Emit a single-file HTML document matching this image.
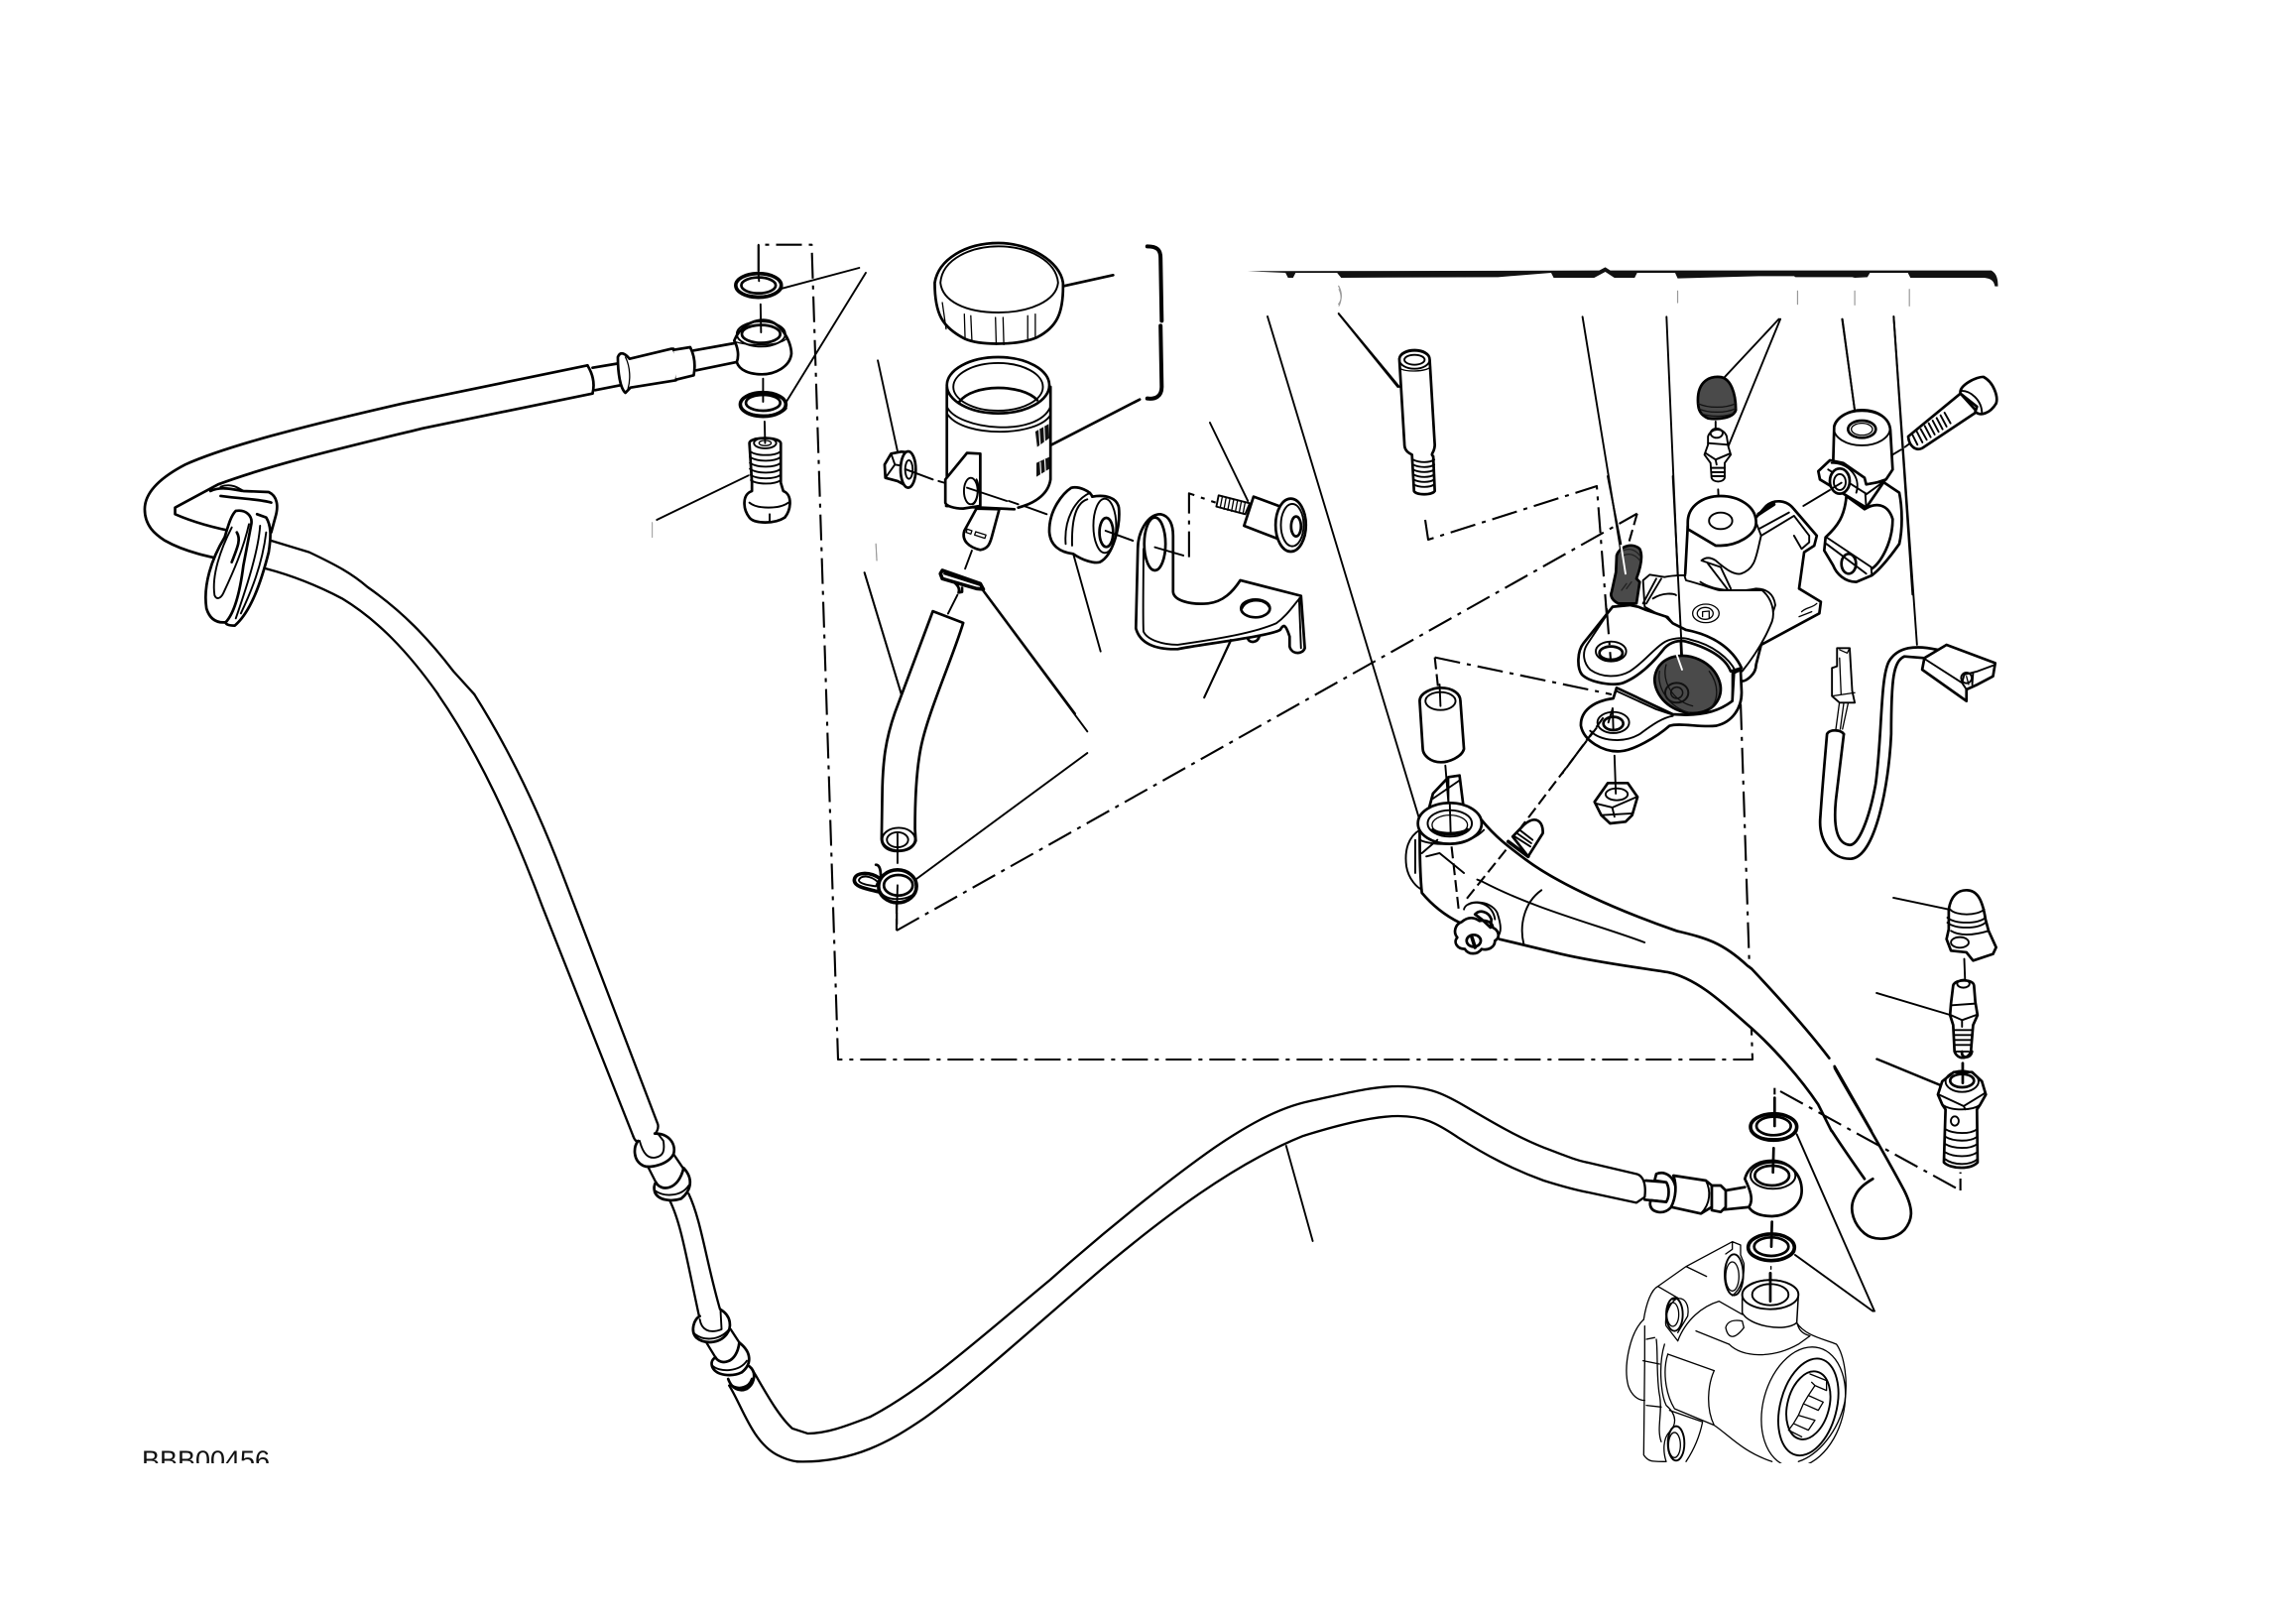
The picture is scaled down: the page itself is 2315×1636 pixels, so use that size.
<!DOCTYPE html>
<html><head><meta charset="utf-8"><style>
html,body{margin:0;padding:0;background:#fff;width:2315px;height:1636px;overflow:hidden}
svg{display:block}
svg *{vector-effect:non-scaling-stroke}
path,ellipse,line,polygon{fill:none;stroke:#000;stroke-width:2.7;stroke-linejoin:round;stroke-linecap:round}
.m{stroke-width:1.9}.f{stroke-width:1.3}.T{stroke-width:3.6}.h{stroke-width:2.3}
.w{fill:#fff}.d{fill:#4a4a4a}.k{fill:#111;stroke:none}
.dd{stroke-width:2.1;stroke-dasharray:26 7 4 7;stroke-linecap:butt}
.ds{stroke-width:2.1;stroke-dasharray:12 5;stroke-linecap:butt}
.wl{stroke:#fff;stroke-width:1.9}.g{stroke:#999;stroke-width:1}
</style></head><body>
<svg width="2315" height="1636" viewBox="0 0 2315 1636" xmlns="http://www.w3.org/2000/svg">
<rect width="2315" height="1636" fill="#fff"/>

<!-- Z1 upper hose -->
<g transform="translate(100 220) scale(.5102 .3333)">
<path d="M965,445 L600,560 C400,630 250,690 170,745 C120,785 90,830 90,880 C90,930 110,955 130,975 C170,1010 220,1025 270,1040"/>
<path d="M975,530 L640,635 C480,695 340,745 235,805 L150,875 L150,895 C180,915 220,935 275,950"/>
<path class="h" d="M340,975 L415,1010 C470,1050 500,1075 530,1115 C600,1190 650,1270 700,1370 L741.5,1440"/>
<path class="h" d="M330,1060 C380,1080 430,1110 480,1150 C550,1215 610,1310 670,1440"/>
<path d="M965,445 C975,470 980,500 975,530"/>
<path d="M975,452 L1030,438 M980,520 L1030,505"/>
<path class="w" d="M1025,420 C1030,400 1040,410 1048,425 L1130,395 L1135,395 C1145,430 1145,460 1140,490 L1050,512 L1040,528 C1030,515 1025,470 1025,420 Z"/>
<path class="f" d="M1040,420 C1050,450 1050,490 1045,515"/>
<path class="w" d="M1135,398 L1168,390 C1178,420 1178,450 1175,475 L1140,488"/>
<path d="M1175,400 L1255,378 M1180,460 L1260,435"/>
<path class="w" d="M1255,370 C1265,330 1290,308 1312,308 C1345,308 1368,370 1368,410 C1365,450 1335,472 1310,472 C1285,472 1265,460 1260,435 C1265,415 1262,390 1255,370 Z"/>
<ellipse class="m" cx="1308" cy="350" rx="48" ry="38"/>
<ellipse cx="1308" cy="350" rx="38" ry="27"/>
<path class="f" d="M1255,372 C1270,385 1340,390 1358,365"/>
<ellipse class="T" cx="1303" cy="203" rx="45" ry="36"/><ellipse cx="1303" cy="203" rx="34" ry="24"/>
<path class="m" d="M1260,215 C1270,240 1335,245 1348,215"/>
<ellipse class="T" cx="1312" cy="563" rx="45" ry="36"/><ellipse cx="1312" cy="558" rx="34" ry="24"/>
<path class="m" d="M1268,575 C1280,600 1345,605 1358,575"/>
<path class="w" d="M1285,680 C1285,660 1345,660 1347,680 L1347,800 L1352,825 C1370,835 1368,880 1355,905 C1335,925 1295,925 1285,905 C1272,880 1270,835 1290,825 L1290,800 Z"/>
<ellipse class="m" cx="1316" cy="680" rx="22" ry="16"/><ellipse class="f" cx="1316" cy="680" rx="12" ry="8"/>
<path class="m" d="M1286,705 C1300,720 1335,720 1347,705 M1286,722 C1300,737 1335,737 1347,722 M1286,740 C1300,755 1335,755 1347,740 M1286,758 C1300,773 1335,773 1347,758 M1287,776 C1300,790 1335,790 1347,776 M1288,792 C1300,806 1335,806 1347,792"/>
<path class="m" d="M1285,860 C1300,880 1345,880 1362,860 M1325,895 L1325,918"/>
<path class="m" d="M1303,80 L1303,165 M1303,170 L1304,190 M1307,260 L1308,345 M1312,485 L1312,555 M1315,615 L1316,680"/>
<path class="m" d="M1350,212 L1502,150 M1356,560 L1515,165 M1283,778 L1102,912"/>
<path class="g" d="M1093,920 L1093,965 M1535,985 L1537,1035"/>
<!-- grommet -->
<path d="M220,825 C240,810 265,820 285,825 L335,828 C352,840 355,870 348,905 L340,950"/>
<path d="M240,840 C290,850 320,850 340,860"/>
<path class="m" d="M240,812 C260,800 275,815 285,825"/>
<path class="w" d="M270,885 C290,880 305,900 300,930 L285,1050 C280,1110 270,1190 250,1222 C230,1225 218,1210 212,1180 C205,1110 222,1030 248,965 C255,930 260,900 270,885 Z"/>
<path class="m" d="M262,935 C240,1000 222,1080 228,1140 C232,1155 240,1150 245,1135 C265,1070 285,1000 296,925"/>
<path d="M312,895 L330,905 C340,930 340,960 335,1010 C320,1100 300,1190 268,1232 C255,1232 250,1228 250,1222"/>
<path class="m" d="M318,930 C315,1000 295,1100 270,1210 M330,950 C322,1050 300,1130 280,1195"/>
<path d="M272,950 C280,970 275,990 262,1040"/>
</g>

<!-- Z9 -->
<g transform="translate(400 700) scale(.3333)">
<path class="h" d="M125,0 C250,180 350,400 440,640 L715,1335"/>
<path class="h" d="M235,0 C330,150 420,330 500,540 L790,1300 C795,1320 770,1350 745,1355 C730,1358 720,1350 715,1335"/>
</g>

<!-- Z6 hose lower left -->
<g transform="translate(100 1100) scale(.5102 .3333)">
<path class="w" d="M1098,128 C1130,128 1140,165 1135,190 C1125,220 1090,235 1075,225 C1055,210 1055,170 1065,150"/>
<path class="m" d="M1068,150 C1075,190 1085,205 1100,200 C1115,195 1118,180 1115,150 L1105,130"/>
<path class="h" d="M1085,230 L1100,275 M1135,190 L1155,235"/>
<path class="w" d="M1155,232 C1175,265 1170,300 1150,325 C1130,335 1105,330 1098,305 C1095,290 1098,280 1100,275 C1110,305 1145,300 1155,232 Z"/>
<path class="m" d="M1098,300 C1115,320 1150,320 1165,285"/>
<path class="h" d="M1128,332 C1150,400 1160,500 1187,690 M1165,310 C1190,390 1200,520 1228,665"/>
<path class="w" d="M1228,660 C1250,680 1250,715 1240,735 C1225,765 1195,765 1180,745 C1168,725 1175,690 1187,680"/>
<path class="m" d="M1187,690 C1190,720 1205,735 1230,720 L1228,665 M1178,735 C1195,755 1225,755 1245,720"/>
<path class="h" d="M1200,760 L1220,810 M1248,720 L1265,760"/>
<path class="w" d="M1265,760 C1290,790 1290,825 1270,850 C1250,865 1220,860 1212,835 C1208,820 1212,810 1218,805 C1228,830 1260,825 1265,760 Z"/>
<path class="m" d="M1212,830 C1225,850 1265,850 1280,815"/>
<path d="M1285,832 C1300,850 1295,885 1280,900 C1265,910 1250,900 1243,870 M1250,890 C1265,905 1285,895 1290,870"/>
<path class="h" d="M1245,890 C1270,950 1290,1060 1340,1100 C1355,1112 1367,1118 1380,1120"/>
<path class="h" d="M1290,840 C1310,890 1340,980 1370,1020 L1400,1035 C1440,1035 1480,1010 1523,985"/>
</g>

<!-- Z8 hose -->
<g transform="translate(740 1060) scale(.6378 .3333)">
<path class="h" d="M215,1105 C300,1020 380,880 500,690 C600,520 700,370 760,290 C810,225 860,170 910,150 C970,125 1010,105 1050,105 C1100,105 1125,130 1160,170 C1200,215 1240,260 1280,290 C1310,312 1330,328 1348,335"/>
<path class="h" d="M100,1240 C190,1245 250,1175 300,1110 C370,1015 470,840 580,660 C680,500 790,340 900,255 C950,225 1010,195 1050,195 C1090,195 1110,215 1145,260 C1190,315 1230,355 1280,390 C1310,408 1330,418 1348,425"/>
<path class="m" d="M873,285 L915,573"/>
</g>

<!-- dash frame + long lines in page coords -->
<path class="dd" d="M764.8,273 L764.8,246.7 L818.4,246.7 L845,1068 L1767,1068 L1755,707"/>
<path class="dd" d="M904,938 L1650.7,517.7"/>
<path class="ds" d="M904,938 L904,905"/>
<path class="ds" d="M1650.7,517.7 L1642,548"/>
<path class="dd" d="M1437,524 L1440,544 L1610,490 L1620,620 L1624,664"/>
<path class="m" d="M1278,319 L1431.4,826.7"/>

<!-- Z2 reservoir etc -->
<g transform="translate(820 220) scale(.3827 .3333)">
<path d="M320,195 C320,290 340,330 400,365 C440,385 540,385 590,360 C640,330 660,290 658,195 C650,130 570,75 488,75 C400,75 330,125 320,195 Z"/>
<path class="m" d="M335,195 C340,120 420,85 488,85 C570,85 640,130 645,195 C640,250 570,285 488,285 C400,285 340,250 335,195 Z"/>
<path class="f" d="M340,255 L350,335 M398,290 L400,365 M415,295 L418,372 M480,300 L482,382 M500,300 L502,382 M565,295 L565,372 M585,290 L585,362"/>
<path d="M660,205 L790,172"/>
<path style="stroke-width:4" d="M880,85 C905,85 915,95 915,120 L918,310"/>
<path style="stroke-width:4" d="M915,325 L918,510 C918,540 900,548 880,545"/>
<!-- reservoir -->
<ellipse cx="487" cy="505" rx="135" ry="85"/>
<ellipse class="m" cx="487" cy="510" rx="118" ry="72"/>
<path d="M385,555 C420,500 550,500 590,550"/>
<path class="m" d="M352,570 C380,640 590,665 625,570 M355,595 C400,665 590,660 625,595"/>
<path d="M352,510 L352,840 M625,510 L625,790 C620,830 590,860 540,875 M350,870 L530,880"/>
<path class="k" d="M585,645 L620,622 L622,665 L590,692 Z M588,740 L622,722 L622,758 L588,782 Z"/>
<path class="wl" style="stroke-width:1.2" d="M595,640 L598,690 M608,632 L610,680 M598,738 L600,778 M610,730 L612,770"/>
<path d="M628,685 L860,548"/>
<path class="w" d="M348,790 L405,710 L440,712 L440,870 L395,878 C370,878 350,870 348,860 Z"/>
<ellipse class="m" cx="415" cy="825" rx="18" ry="40"/>
<path class="m" d="M430,790 C440,810 432,860 420,865"/>
<!-- nut -->
<path class="w" d="M188,745 L205,712 L232,706 L250,708 L250,812 L222,795 L190,785 Z"/>
<path class="m" d="M205,712 L215,745 L190,785 M215,745 L240,750"/>
<ellipse class="w" cx="250" cy="760" rx="20" ry="55"/><ellipse class="m" cx="252" cy="760" rx="10" ry="28"/>
<path class="m" d="M170,430 L222,705"/>
<path class="m" d="M245,760 L315,790 M330,795 L345,800 M405,815 L510,855"/><path class="m" d="M515,855 L540,865 M555,870 L615,895 M770,945 L842,975"/>
<!-- spigot -->
<path class="w" d="M430,878 L398,945 C390,975 410,995 440,1003 C460,1000 465,985 470,965 L490,880 Z"/>
<path class="f" d="M405,940 L418,945 L415,955 L403,950 Z M428,948 L455,958 L452,968 L425,958 Z"/>
<path class="m" d="M418,1005 L400,1060"/>
<!-- clip -->
<path class="T" d="M340,1065 L440,1105 L448,1122 L430,1120 L340,1090 L335,1075 Z"/>
<path class="m" d="M345,1075 L440,1110"/>
<path d="M375,1105 C385,1115 385,1125 383,1132 L392,1130 L392,1118"/>
<path class="m" d="M448,1125 L690,1498"/>
<!-- rubber grommet -->
<path class="w" d="M680,815 C660,830 620,880 622,950 C625,990 650,1010 685,1015 C710,1035 740,1045 755,1040 C790,1020 810,930 805,875 C800,845 770,835 735,842 C730,825 700,810 680,815 Z"/>
<path class="m" d="M730,830 C690,850 660,910 665,985 M722,850 C695,860 680,900 682,990"/>
<ellipse class="m" cx="768" cy="930" rx="30" ry="82"/>
<ellipse cx="772" cy="950" rx="18" ry="44"/>
<path class="m" d="M770,945 L842,975"/>
<path class="m" d="M685,1015 L757,1310"/>
<!-- bracket -->
<path class="w" d="M855,1000 C855,950 880,895 915,895 C940,900 948,930 948,960 L948,1130 C950,1155 990,1170 1040,1165 C1080,1160 1105,1130 1125,1095 L1285,1142 L1295,1300 C1290,1320 1260,1320 1255,1295 L1255,1265 C1245,1230 1240,1225 1230,1245 C1200,1265 1010,1290 960,1303 C900,1305 860,1285 850,1240 Z"/>
<ellipse cx="900" cy="985" rx="28" ry="80"/>
<path class="m" d="M870,1000 C870,1100 868,1200 870,1250 C880,1275 920,1290 960,1290 C1020,1280 1150,1260 1220,1225 C1250,1200 1265,1170 1285,1145 M1280,1150 L1285,1300"/>
<ellipse cx="1165" cy="1180" rx="38" ry="27"/>
<path class="m" d="M1130,1180 C1140,1150 1190,1150 1200,1175"/>
<path d="M1145,1272 C1150,1285 1170,1285 1175,1265"/>
<path class="m" d="M900,995 L975,1020"/>
<path class="dd" d="M990,1025 L990,832 L1060,860"/>
<!-- screw -->
<path class="w m" d="M1068,838 L1150,862 L1138,895 L1062,872 Z"/>
<path class="f" d="M1078,840 L1072,876 M1088,843 L1082,880 M1098,846 L1092,883 M1108,849 L1102,886 M1118,852 L1112,888 M1128,855 L1122,891 M1138,858 L1132,894"/>
<path class="w" d="M1160,842 L1250,880 L1225,970 L1135,930 Z"/>
<ellipse class="w" cx="1258" cy="928" rx="40" ry="80"/>
<ellipse class="m" cx="1262" cy="928" rx="30" ry="64"/>
<ellipse cx="1272" cy="932" rx="13" ry="30"/>
<path class="m" d="M1045,618 L1145,855"/>
<!-- leaders -->
<path class="m" d="M135,1072 L232,1440"/>
<path class="m" d="M1385,290 L1540,510 M1100,1275 L1030,1450"/>
<path class="g" d="M165,985 L167,1035 M1385,215 C1392,230 1392,250 1385,265"/>
</g>

<!-- Z7 tube/clip -->
<g transform="translate(820 560) scale(.3827 .3444)">
<path class="m" d="M135,50 L232,405"/>
<path class="m" d="M380,115 L355,170"/>
<path class="w" d="M315,163 L395,197 C370,290 310,440 288,540 C272,610 268,700 268,800 L270,835 C262,860 240,865 222,865 C200,865 182,855 180,830 L182,680 C184,600 190,540 215,460 Z"/>
<ellipse class="m" cx="225" cy="830" rx="43" ry="33"/><ellipse class="m" cx="222" cy="832" rx="28" ry="22"/>
<path class="m" d="M222,815 L222,900 M222,965 L220,1045"/>
<path class="m" d="M445,100 L722,515 M722,578 L270,948 M1100,250 L1030,415"/>
<ellipse class="T" cx="222" cy="968" rx="50" ry="48"/>
<ellipse cx="224" cy="965" rx="38" ry="30"/>
<path class="m" d="M178,985 C190,1012 250,1012 270,985"/>
<path class="T" d="M175,945 C150,925 110,925 108,950 C108,970 140,975 175,985"/>
<path class="m" d="M170,955 C150,935 125,935 120,950 C120,960 145,965 165,968 Z"/>
<path d="M165,905 C175,905 178,920 178,945"/>
<path class="ds" d="M220,1045 L220,1095"/>
</g>

<!-- Z3 right assembly -->
<g transform="translate(1240 250) scale(.5102 .3333)">
<path class="k" d="M35,70 L730,68 L742,58 L752,68 L1505,68 C1516,78 1518,95 1518,116 L1512,116 C1510,100 1505,92 1490,90 L1345,90 L1340,75 L1265,75 L1260,88 L1235,90 L1230,88 L1150,88 L1118,88 L1115,85 L1045,85 L885,92 L880,75 L805,75 L800,90 L760,90 L742,72 L720,90 L640,90 L635,75 L530,88 L220,90 L212,75 L130,75 L125,90 L115,90 L110,75 Z"/>
<path class="g" d="M215,115 C222,135 222,155 215,170 M885,130 L885,165 M1122,130 L1122,170 M1235,130 L1235,172 M1343,125 L1343,175" style="stroke-width:1.2"/>
<path class="m" d="M215,198 L335,420 M697,208 L780,985 M863,208 L893,1270 M1085,215 L975,395 M1088,215 L985,600 M1210,215 L1235,490 M1312,208 L1358,1200"/>
<!-- stud -->
<path class="w" d="M335,335 C338,300 395,300 395,338 L405,595 C405,620 395,622 402,630 L405,735 C400,748 368,748 364,735 L360,625 C345,615 345,600 345,590 Z"/>
<ellipse class="m" cx="365" cy="338" rx="30" ry="27"/><ellipse class="m" cx="365" cy="338" rx="20" ry="15"/>
<path class="f" d="M337,365 C350,375 385,375 397,360"/>
<path class="m" d="M362,640 C375,650 395,650 404,640 M362,655 C375,665 395,665 404,655 M362,670 C375,680 395,680 404,670 M363,685 C375,695 395,695 404,685 M363,700 C375,710 395,710 404,700 M363,715 C375,725 395,725 404,715"/>
<!-- dark cap & fitting -->
<path class="d" d="M925,460 C925,400 950,388 968,390 C990,392 1000,440 1000,490 C995,515 965,520 945,515 C930,505 925,490 925,460 Z"/>
<path class="f" d="M925,470 C945,485 980,485 1000,470 M925,485 C945,500 980,500 1000,485 M930,500 C950,512 980,512 998,498" style="stroke:#111"/>
<path class="m" d="M960,525 L960,550"/>
<path class="w m" d="M945,570 C950,545 975,540 982,570 L985,600 L990,625 L978,650 L978,695 C975,710 955,710 952,695 L950,650 L938,625 L945,595 Z"/>
<ellipse class="m" cx="962" cy="560" rx="12" ry="14"/>
<path class="m" d="M945,590 L985,595 M940,620 L960,640 L988,622 M960,640 L962,655"/>
<path class="T" style="stroke-width:2" d="M952,665 L978,665 M952,678 L978,678 M952,690 L978,690"/>
<path class="m" d="M965,730 L968,825"/>
<!-- cylinder top -->
<path class="w" d="M905,830 C905,780 935,750 970,750 C1005,750 1040,780 1040,830 C1040,870 1000,900 970,900 L960,900 L905,850 Z"/>
<ellipse class="w m" cx="970" cy="825" rx="23" ry="25"/>
<path d="M905,840 L900,985"/>
<path class="m" d="M1040,830 L1050,870 C1040,930 1040,970 1010,985 C995,990 975,965 960,945 C950,935 940,935 932,945 L970,965 L990,1030"/>
<path class="m" d="M945,955 L985,1035 M930,1010 C960,1040 1010,1040 1040,1030 C1060,1030 1075,1045 1078,1080 C1070,1120 1055,1170 1040,1200"/>
<!-- levers right of cylinder -->
<path d="M1040,815 L1060,780 C1075,760 1100,760 1115,790 L1160,870 L1155,900 L1135,920 L1125,1030 L1168,1070 L1165,1105 L1050,1200 L1040,1260 C1040,1290 1020,1310 1012,1310"/>
<path class="T" d="M1045,805 L1075,775"/>
<path class="m" d="M1045,850 L1105,800 M1050,870 L1115,810 L1145,870 L1145,890 L1130,910 L1115,870"/>
<path class="f" d="M1130,1100 C1140,1085 1150,1090 1160,1075 M1125,1115 L1150,1100"/>
<!-- connector -->
<path class="w m" d="M1200,1210 L1225,1210 L1230,1340 L1235,1375 L1205,1375 L1190,1355 L1190,1270 L1200,1265 Z"/>
<path class="f" d="M1205,1215 L1220,1225 L1225,1210 M1205,1240 L1208,1350 M1190,1355 L1235,1345"/>
</g>

<!-- Z10 master body -->
<g transform="translate(1440 480) scale(.3333)">
<path class="w m" d="M650,315 L670,298 L715,305 C750,298 790,300 775,300 L780,315 C820,325 860,340 880,345 L1010,345 C1040,370 1050,410 1040,440 C1020,490 990,540 950,590 L945,585 C920,520 860,480 780,465 L740,445 L725,425 L700,420 L655,395 Z"/>
<path class="m" d="M705,310 L660,385 M690,310 L650,385 M680,370 C710,350 745,355 750,360"/>
<path class="d" d="M570,240 C580,210 620,200 640,220 C650,240 645,270 630,310 L640,320 L630,385 L575,385 C555,375 550,360 555,350 L568,290 Z"/>
<path class="f" d="M590,225 C610,215 630,225 640,240 M590,240 C610,230 630,240 640,255 M585,345 L600,325 M600,340 L615,320" style="stroke:#222"/>
<path class="wl" d="M583,205 L597,295"/>
<path class="w" d="M558,395 L470,505 C450,530 450,580 465,600 C490,625 560,635 590,625 C640,605 680,565 715,520 C735,500 760,495 780,500 C850,520 900,550 915,590 L948,580 C920,520 860,480 780,465 L740,445 L720,425 L660,405 L635,395 L610,390 Z"/>
<path class="m" d="M540,420 L480,510 C465,535 470,565 490,585 C525,610 575,610 610,590 C650,565 680,525 710,505 C730,490 770,485 795,495 C860,510 910,550 930,590"/>
<ellipse class="m" cx="553" cy="530" rx="46" ry="30"/>
<ellipse cx="553" cy="535" rx="35" ry="20"/>
<ellipse class="d" cx="785" cy="630" rx="103" ry="83" transform="rotate(25 785 630)"/>
<path class="f" d="M700,590 C690,640 730,700 790,715 M720,570 C705,620 740,680 800,695 M850,590 C880,630 880,680 850,705" style="stroke:#111"/>
<ellipse cx="752" cy="655" rx="35" ry="30" style="stroke:#111;stroke-width:2"/>
<ellipse cx="752" cy="655" rx="18" ry="17" style="stroke:#111;stroke-width:1.5"/>
<path class="wl" d="M752,540 L768,585"/>
<path class="m" d="M740,0 L768,540 M543,0 L583,205"/>
<ellipse class="f" cx="840" cy="415" rx="40" ry="28"/><ellipse class="f" cx="838" cy="415" rx="24" ry="18"/><path class="f" d="M830,425 L830,410 L850,408 L850,430"/>
<!-- lower flange -->
<path class="w" d="M560,672 C500,680 460,710 462,755 C470,800 530,835 580,832 C620,830 690,790 730,755 C760,745 820,760 870,755 C920,745 950,700 948,650 L945,585 L925,595 L920,680 C880,710 840,720 780,722 L740,720 L570,640 Z"/>
<path class="m" d="M570,650 L690,705 L735,720 M490,770 C520,800 590,810 640,780 C680,750 710,730 740,725"/>
<ellipse class="m" cx="560" cy="745" rx="48" ry="32"/>
<ellipse cx="560" cy="748" rx="30" ry="20"/>
<path class="m" d="M920,590 L920,680"/>
<path class="m" d="M558,702 L545,745 M558,702 L560,765"/>
<path class="dd" d="M540,400 L552,555"/>
<path class="dd" d="M20,548 L555,660"/>
<path class="ds" d="M20,548 L30,640"/>
<path class="ds" d="M530,730 L405,900"/>
</g>

<!-- Z12 clamp -->
<g transform="translate(1800 240) scale(.3333)">
<path d="M300,740 L345,770 C355,820 355,880 345,925 C320,960 290,1000 262,1020 L215,1040 C180,1040 155,1015 145,990 L118,945 L122,905 C160,870 180,840 185,780 L240,820 C270,800 310,800 325,850 C325,920 290,980 262,1000"/>
<path class="m" d="M125,905 L260,995 L262,1020 M125,925 L245,1015"/>
<ellipse cx="192" cy="985" rx="22" ry="30"/>
<path class="w" d="M148,570 C155,540 195,520 232,520 C280,520 315,545 318,580 L325,700 L305,730 L245,750 L145,680 Z"/>
<ellipse class="m" cx="232" cy="575" rx="85" ry="52"/>
<ellipse cx="232" cy="578" rx="42" ry="26"/><ellipse class="f" cx="232" cy="578" rx="32" ry="18"/>
<path class="w" d="M100,705 L135,672 L175,680 L240,725 L245,745 L300,735 L245,815 L105,730 Z"/>
<path class="m" d="M130,700 L240,770 M242,770 L245,815 M245,775 L300,735"/>
<path class="m" d="M140,680 C190,680 230,720 215,770"/>
<ellipse class="w" cx="165" cy="735" rx="30" ry="38"/>
<ellipse class="m" cx="165" cy="738" rx="18" ry="24"/>
<path class="m" d="M55,810 L135,762 M145,755 L170,740"/>
<path class="m" d="M325,655 L350,640 M362,632 L385,615"/>
<path class="w" d="M372,600 L530,470 L580,525 L415,635 C395,645 375,630 372,600 Z"/>
<path class="w" d="M530,470 C525,445 580,418 600,420 C630,435 645,480 638,500 C620,530 590,540 575,525 L580,510 Z"/>
<path class="m" d="M530,462 C560,460 595,490 595,530"/>
<path class="m" d="M385,595 L400,625 M398,585 L415,618 M410,578 L428,610 M422,568 L440,602 M434,560 L452,594 M446,552 L464,586 M458,544 L476,578 M470,536 L488,570 M482,528 L500,560"/>
<path class="m" d="M173,245 L210,520 M328,237 L385,1078"/>
</g>

<!-- Z4 lever, nut, cable -->
<g transform="translate(1360 640) scale(.4464 .3333)">
<!-- bushing -->
<path class="w" d="M160,200 C160,175 190,160 207,160 C235,160 252,178 252,200 L260,345 C255,370 225,385 208,385 C185,385 168,365 167,345 Z"/>
<ellipse class="m" cx="207" cy="200" rx="34" ry="27"/>
<path class="m" d="M205,150 L207,215 M218,395 L225,510"/>
<!-- nut -->
<path class="w" d="M555,505 L585,448 L630,448 L652,490 L640,545 L625,565 L590,570 L570,545 Z"/>
<path class="m" d="M558,510 L595,522 L650,490 M595,522 L600,550 M570,545 L640,540"/>
<ellipse class="m" cx="605" cy="482" rx="25" ry="18"/>
<path class="m" d="M600,365 L603,480"/>
<!-- pointy block behind boss -->
<path d="M182,520 L190,480 L225,430 L250,425 L258,510"/>
<path class="m" d="M250,440 L190,495 M225,430 L225,510"/>
<!-- lever -->
<path class="w" d="M160,570 C160,640 160,720 165,780 C190,820 220,850 250,870 L340,920 L480,965 C560,990 650,1005 720,1020 C790,1040 850,1120 910,1190 L1100,1300 C1040,1200 980,1110 910,1010 L900,1000 C840,925 800,915 740,895 C600,830 470,750 400,680 C360,640 330,610 300,560 Z" style="stroke:none"/>
<path d="M160,570 C160,640 160,720 165,780 C190,820 220,850 250,870"/>
<path d="M300,560 C330,610 360,640 400,680 C470,750 600,830 740,895 C800,915 840,925 900,1000 L910,1010 C980,1110 1040,1200 1085,1280 M1097,1305 L1180,1500"/>
<path d="M340,920 L480,965 C560,990 650,1005 720,1020 C790,1040 850,1120 910,1190 C960,1250 1020,1340 1060,1420 L1090,1500"/>
<path class="m" d="M160,590 C135,610 125,650 130,700 C135,740 155,765 165,770 M150,620 L150,720"/>
<ellipse class="w" cx="228" cy="570" rx="72" ry="62"/>
<ellipse class="m" cx="228" cy="570" rx="50" ry="40"/>
<ellipse class="f" cx="228" cy="575" rx="40" ry="30"/>
<path class="T" d="M190,590 C205,605 250,605 268,590"/>
<path class="m" d="M228,510 L230,600"/>
<path class="m" d="M160,620 C190,640 270,640 305,590 M165,660 L200,620 M175,670 L205,660 L260,720 M290,740 L300,745 C420,830 570,880 668,930 M435,772 C395,810 385,880 395,935"/>
<path class="ds" d="M232,640 L248,830"/>
<path class="ds" d="M355,650 L265,800"/>
<path class="ds" d="M560,280 L390,580"/>
<!-- pin -->
<path class="w" d="M370,610 L395,575 C425,540 440,570 438,600 L405,670 Z"/>
<path class="m" d="M375,610 L410,640 M380,600 L412,630 M388,592 L415,620"/>
<path class="T" d="M360,625 L405,670"/>
<!-- knob -->
<path class="m" d="M260,830 C265,800 320,800 335,840 C345,880 345,900 335,915"/>
<path class="m" d="M270,815 C290,800 325,815 330,860"/>
<path class="w" d="M255,868 C270,850 285,855 295,865 C310,860 325,870 325,885 C340,895 342,915 330,925 C330,945 315,955 300,950 C290,968 270,968 262,950 C245,950 235,930 245,915 C235,900 240,875 255,868 Z"/>
<path d="M285,845 C295,830 315,835 322,860 L320,885 L300,860 Z"/>
<ellipse cx="282" cy="925" rx="16" ry="18"/><path class="T" d="M278,915 L285,945"/>
<!-- cable -->
<path d="M1330,45 C1280,30 1240,35 1220,80 C1200,130 1205,300 1190,450 C1175,560 1150,640 1130,635 C1100,630 1095,570 1100,500 L1118,300"/>
<path d="M1300,70 L1255,65 C1230,80 1225,130 1225,300 C1220,450 1190,670 1135,677 C1090,680 1060,620 1065,550 C1070,450 1075,380 1080,300 C1085,285 1110,285 1118,300"/>
<path class="f" d="M1108,205 L1100,285 M1118,205 L1110,285 M1128,205 L1115,285"/>
<path class="w" d="M1300,70 L1350,30 L1460,85 L1455,125 L1420,150 L1395,165 L1395,200 L1295,105 Z"/>
<path class="m" d="M1300,72 L1385,145 L1395,165 M1385,145 L1390,120 L1420,110 L1460,90 M1410,115 L1408,150"/>
<ellipse class="m" cx="1395" cy="130" rx="12" ry="16"/>
<path class="f" d="M1395,125 L1400,150"/>
<!-- right stack -->
<path class="w" d="M1355,830 C1360,790 1375,772 1395,772 C1415,772 1430,790 1438,860 L1445,895 L1462,945 L1455,965 L1410,985 L1395,960 L1360,955 L1350,920 L1355,890 Z"/>
<path class="m" d="M1358,830 C1370,850 1420,850 1435,830 M1352,855 C1370,875 1420,875 1438,855 M1352,870 C1370,890 1420,890 1438,870 M1360,895 C1385,915 1420,905 1445,895"/>
<ellipse class="m" cx="1380" cy="930" rx="20" ry="16"/>
<path class="m" d="M1390,980 L1392,1050"/>
<path class="w" d="M1365,1060 C1370,1040 1410,1040 1412,1060 L1415,1110 L1420,1150 L1410,1180 L1405,1260 C1398,1285 1375,1285 1368,1260 L1365,1180 L1358,1150 L1360,1115 Z"/>
<ellipse class="m" cx="1388" cy="1055" rx="14" ry="12"/>
<path class="m" d="M1362,1120 L1415,1115 M1360,1150 L1385,1165 L1420,1148 M1385,1165 L1385,1185 M1368,1195 L1408,1195 M1368,1210 L1408,1210 M1368,1225 L1408,1225 M1368,1240 L1406,1240 M1372,1260 L1400,1260"/>
<path class="m" d="M1230,795 L1355,830 M1192,1083 L1355,1148 M1192,1283 L1335,1362 M1386,1295 L1386,1345"/>
</g>

<!-- Z5 lower right -->
<g transform="translate(1600 1060) scale(.3333)">
<path d="M750,50 C800,140 880,270 960,420 C990,480 985,510 960,540 C930,570 870,575 840,550 C810,525 790,480 810,440 C820,415 840,400 865,385"/>
<path d="M741,240 C770,285 805,335 840,385"/>
<path class="dd" d="M585,120 L1130,420"/>
<path class="ds" d="M568,110 L568,130"/>
<path class="ds" d="M1130,420 L1130,365"/>
<!-- hose end/fitting -->
<path class="h" d="M0,335 L150,370 C170,375 180,400 175,440 L150,457 L0,425"/>
<path d="M178,390 L240,395 M175,448 L240,455"/>
<path class="w" d="M210,370 C235,360 265,375 270,420 C272,470 240,490 215,485 C185,480 190,450 195,450 L240,455 C250,440 250,410 240,395 L205,390 Z"/>
<path class="w" d="M262,375 L360,390 L378,405 L378,470 L345,490 L255,470 C270,440 272,405 262,375 Z"/>
<path class="m" d="M360,390 C375,420 375,460 345,490"/>
<path class="w" d="M378,405 L405,405 L420,420 L420,470 L405,485 L378,480 Z"/>
<path d="M420,420 L478,410 M415,478 L495,470"/>
<path class="w" d="M478,385 C490,340 530,330 560,330 C610,330 650,370 650,420 C650,470 600,498 560,498 C530,498 500,490 490,470 C505,450 495,420 478,385 Z"/>
<ellipse class="m" cx="563" cy="375" rx="68" ry="40"/>
<ellipse cx="560" cy="375" rx="52" ry="30"/>
<ellipse class="T" cx="565" cy="228" rx="70" ry="40"/><ellipse cx="565" cy="225" rx="52" ry="28"/>
<path class="m" d="M497,240 C510,272 620,272 635,240"/>
<ellipse class="T" cx="558" cy="592" rx="70" ry="40"/><ellipse cx="558" cy="590" rx="52" ry="28"/>
<path class="m" d="M490,605 C505,640 610,640 628,605"/>
<path class="m" d="M635,250 L870,785 M630,615 L865,785 M878,22 L1068,100"/>
<path d="M568,140 L568,225 M565,292 L563,365 M560,515 L558,590 M555,670 L555,755"/>
<path class="f" d="M557,650 L557,658"/>
<!-- banjo bolt -->
<path class="w" d="M1062,130 L1075,90 L1110,62 L1165,62 L1195,90 L1207,130 L1190,160 L1180,175 L1182,335 C1160,358 1100,355 1080,335 L1085,175 L1075,160 Z"/>
<ellipse class="m" cx="1135" cy="90" rx="50" ry="32"/><ellipse cx="1135" cy="88" rx="36" ry="20"/>
<path class="m" d="M1065,130 L1140,165 L1205,125 M1075,160 C1100,180 1170,180 1190,160 M1140,165 L1145,175"/>
<ellipse class="m" cx="1113" cy="210" rx="12" ry="14"/>
<path class="m" d="M1085,235 C1110,250 1160,250 1180,235 M1085,258 C1110,273 1160,273 1180,258 M1085,280 C1110,295 1160,295 1180,280 M1085,305 C1110,320 1160,320 1180,305 M1083,325 C1110,345 1160,345 1182,325"/>
<path d="M1137,35 L1137,95"/>
<path d="M1135,0 C1130,20 1160,25 1165,0"/>
<!-- caliper -->
<g>
<path class="f" d="M440,575 L465,585 L465,615 L475,640 C478,680 465,720 440,738 M215,710 L300,650 L440,575 L440,598 L420,612 M300,650 L362,680 M215,710 L275,745"/>
<ellipse class="m" cx="445" cy="675" rx="28" ry="62"/>
<ellipse class="f" cx="440" cy="680" rx="20" ry="44"/>
<path class="f" d="M172,810 C180,760 195,720 215,710 M275,745 C240,765 235,820 240,830 L275,875 M260,750 C300,735 310,770 305,800 L275,850"/>
<ellipse class="m" cx="265" cy="795" rx="25" ry="50"/><ellipse class="f" cx="260" cy="795" rx="18" ry="36"/>
<path class="f" d="M275,875 C300,810 350,770 400,755 L470,795 M420,835 C425,860 440,880 475,835 L470,815 C445,810 425,815 420,835"/>
<path class="f" d="M330,845 L430,885 M245,915 L385,965 M172,810 C130,850 110,950 125,1010 C135,1040 155,1055 175,1055"/>
<path class="f" d="M175,830 L175,930 L172,1220 C185,1240 195,1240 240,1240 M210,870 C215,900 210,990 220,1040 C230,1090 210,1140 225,1180 M180,870 L205,865 M170,935 L220,945 M180,1070 L225,1075 M235,885 C215,950 225,1040 240,1070 C275,1100 270,1130 250,1150 C230,1170 230,1210 240,1240"/>
<path class="f" d="M250,1085 L350,1120 C340,1170 320,1210 300,1240"/>
<ellipse class="m" cx="270" cy="1185" rx="25" ry="52"/><ellipse class="f" cx="265" cy="1190" rx="18" ry="38"/>
<path class="f" d="M245,915 C230,960 235,1030 265,1080 L385,1130 C430,1160 470,1210 560,1240 M385,965 C365,1010 360,1080 385,1130"/>
<path class="f" d="M430,885 C470,925 560,930 640,885 L675,860 C640,850 640,830 635,820 M635,820 C660,860 720,870 755,885 C780,920 790,1000 780,1060 C760,1150 700,1220 640,1240 M640,885 L675,860"/>
<ellipse class="f" cx="655" cy="1075" rx="122" ry="185" transform="rotate(15 655 1075)"/>
<ellipse class="w m" cx="670" cy="1075" rx="85" ry="150" transform="rotate(15 670 1075)"/>
<ellipse class="m" cx="670" cy="1070" rx="63" ry="105" transform="rotate(15 670 1070)"/>
<path class="f" d="M675,975 L725,995 L725,1025 L690,1010 L670,1040 L715,1060 L700,1085 L655,1065 L640,1100 L690,1115 L670,1145 L625,1125 L610,1145 L650,1165 M680,1000 L690,1010 M655,1065 L670,1040 M625,1125 L640,1100"/>
<path class="w" d="M470,735 C470,710 520,690 555,690 C600,690 640,710 640,735 L635,820 C600,850 490,830 470,790 Z" style="stroke-width:1.5"/>
<ellipse class="m" cx="555" cy="735" rx="85" ry="44"/>
<ellipse class="m" cx="555" cy="735" rx="55" ry="32"/>
<path d="M555,670 L555,755"/>
</g>
</g>

<rect x="0" y="1475" width="2315" height="161" fill="#fff"/>
<text x="143" y="1481" font-family="'Liberation Sans',sans-serif" font-size="27" fill="#111" textLength="129" lengthAdjust="spacingAndGlyphs">BBB00456</text>
<rect x="0" y="1475" width="2315" height="161" fill="#fff"/>
</svg>
</body></html>
